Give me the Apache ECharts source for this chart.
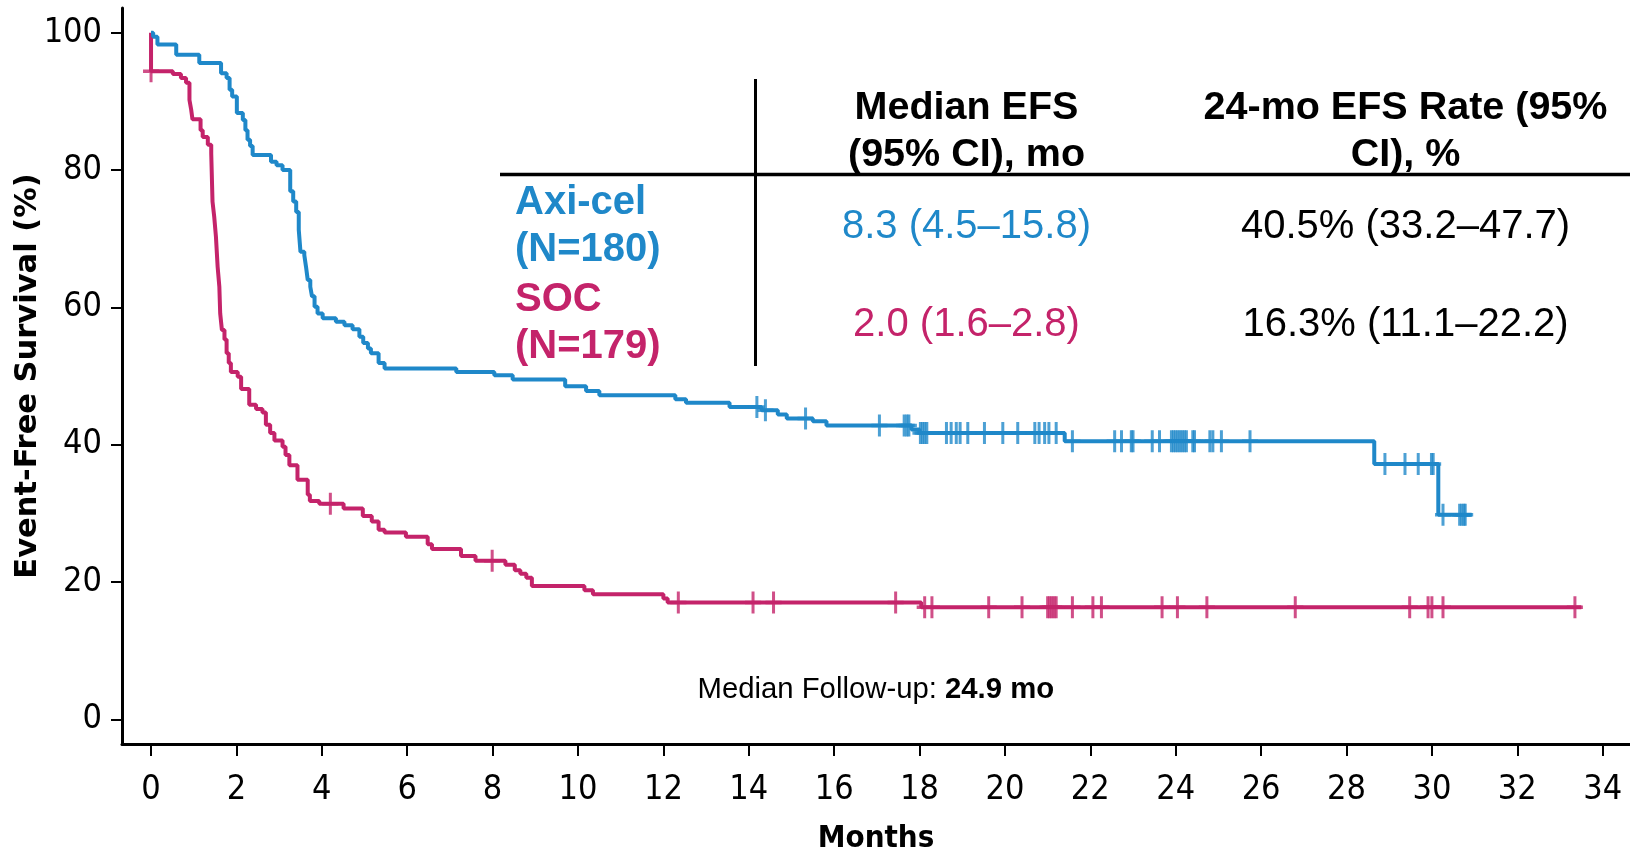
<!DOCTYPE html>
<html><head><meta charset="utf-8">
<script src="https://cdn.jsdelivr.net/npm/echarts@6/dist/echarts.min.js"></script>
<style>html,body{margin:0;padding:0;background:#fff}#c{width:1630px;height:854px}</style>
</head><body><div id="c"></div>
<script>
// ---- data ----
const xTicks = [0,2,4,6,8,10,12,14,16,18,20,22,24,26,28,30,32,34];
const yTicks = [0,20,40,60,80,100];
const xTitle = 'Months';
const yTitle = 'Event-Free Survival (%)';

const axiCelName = 'Axi-cel';
const socName = 'SOC';

// Kaplan-Meier steps [month, survival %]
const axiCel = [[0,100],[0.05,99.4],[0.15,98.3],[0.59,96.8],[1.13,95.6],[1.64,94.1],[1.77,93.4],[1.84,91.7],[1.9,90.7],[2.01,88.3],[2.15,87.3],[2.21,85.8],[2.26,84.4],[2.32,83.5],[2.38,82.2],[2.81,81.2],[2.94,80.7],[3.08,80.0],[3.26,76.9],[3.33,75.4],[3.40,73.9],[3.46,71.3],[3.50,68.1],[3.59,67.6],[3.63,65.9],[3.67,64.0],[3.73,63.0],[3.77,61.6],[3.83,60.1],[3.90,59.1],[4.02,58.4],[4.33,57.9],[4.53,57.4],[4.72,56.8],[4.88,55.7],[4.97,54.8],[5.08,54.0],[5.15,53.3],[5.33,51.9],[5.47,51.1],[7.15,50.6],[8.04,50.1],[8.47,49.5],[9.70,48.5],[10.19,47.8],[10.5,47.2],[12.28,46.6],[12.53,46.1],[13.55,45.5],[14.3,45.0],[14.68,44.4],[14.89,43.8],[15.5,43.4],[15.82,42.8],[17.81,42.2],[18.0,41.7],[21.4,40.5],[28.65,37.2],[30.15,29.8],[30.93,29.8]];

const soc = [[0,100],[0,94.4],[0.51,94.0],[0.70,93.4],[0.82,92.7],[0.90,90.2],[0.94,88.8],[0.97,87.4],[1.16,85.8],[1.21,84.8],[1.33,83.7],[1.41,82.4],[1.44,75.4],[1.48,73.2],[1.52,70.3],[1.56,65.9],[1.60,63.0],[1.62,59.1],[1.66,56.7],[1.72,55.3],[1.77,53.3],[1.82,51.9],[1.87,50.6],[2.03,49.9],[2.11,48.1],[2.30,45.8],[2.46,45.2],[2.61,44.7],[2.69,42.9],[2.79,41.7],[2.89,40.6],[3.08,39.7],[3.15,38.5],[3.24,37.0],[3.43,34.9],[3.67,32.7],[3.72,31.8],[3.94,31.4],[4.51,30.7],[4.96,29.6],[5.17,28.8],[5.33,27.6],[5.47,27.2],[5.97,26.6],[6.48,25.5],[6.58,24.8],[7.26,23.8],[7.60,23.1],[8.30,22.5],[8.52,21.7],[8.65,21.2],[8.79,20.6],[8.92,19.4],[10.15,18.8],[10.35,18.2],[12.0,17.6],[12.1,17.0],[18.04,16.3],[33.5,16.3]];

// censoring times (months)
const axiCelCensor = [14.19,14.39,15.33,17.06,17.64,17.70,17.75,18.02,18.07,18.12,18.17,18.63,18.74,18.86,18.95,19.13,19.52,19.95,20.3,20.7,20.8,20.93,21.03,21.2,21.58,22.57,22.73,22.96,23.0,23.45,23.62,23.9,23.95,24.0,24.05,24.1,24.15,24.2,24.25,24.4,24.44,24.8,24.87,25.07,25.74,28.9,29.37,29.68,29.99,30.03,30.26,30.65,30.7,30.75,30.78];
const socCensor = [0,4.20,7.99,12.35,14.1,14.58,17.44,18.12,18.29,19.62,20.4,21.0,21.05,21.1,21.15,21.2,21.58,22.06,22.26,23.68,24.04,24.73,26.8,29.48,29.91,30.0,30.26,33.35];

// table text
const tableHeader1 = ['Median EFS', '(95% CI), mo'];
const tableHeader2 = ['24-mo EFS Rate (95%', 'CI), %'];
const axiCelLabel = ['Axi-cel', '(N=180)'];
const socLabel = ['SOC', '(N=179)'];
const axiCelMedian = '8.3 (4.5–15.8)';
const socMedian = '2.0 (1.6–2.8)';
const axiCelRate = '40.5% (33.2–47.7)';
const socRate = '16.3% (11.1–22.2)';
const followUpLabel = 'Median Follow-up: ';
const followUpValue = '24.9 mo';

// ---- styling ----
const BLUE = '#1f88c9';
const MAG = '#c4236a';
const NARROW = "'Liberation Sans Narrow','DejaVu Sans Condensed','Arial Narrow',sans-serif";
const ARIAL = "'Liberation Sans',Arial,sans-serif";
const PLUS = 'path://M6.5,0H9.5V9.25H16V12.75H9.5V22H6.5V12.75H0V9.25H6.5Z';

function valueAt(curve, t) {
  let v = curve[0][1];
  for (const p of curve) { if (p[0] <= t) v = p[1]; else break; }
  return v;
}
const axiCelCensorPts = axiCelCensor.map(t => [t, valueAt(axiCel, t)]);
const socCensorPts = socCensor.map(t => [t, valueAt(soc, t)]);

const chart = echarts.init(document.getElementById('c'), null, {renderer: 'canvas'});

function txt(x, y, text, opt) {
  return {type: 'text', x: x, y: y, z: 10, style: Object.assign({
    text: text, fontFamily: ARIAL, fontSize: 39.5, fill: '#000',
    align: 'center', verticalAlign: 'middle'}, opt || {})};
}

chart.setOption({
  animation: false,
  backgroundColor: '#fff',
  grid: {left: 122, right: 0, top: 8, bottom: 110, containLabel: false, outerBoundsMode: 'none'},
  xAxis: {
    type: 'value', min: -0.68, max: 34.64,
    name: xTitle, nameLocation: 'middle', nameGap: 79, nameMoveOverlap: false,
    nameTextStyle: {fontFamily: NARROW, fontWeight: 'bold', fontSize: 31, color: '#000'},
    axisLine: {show: true, onZero: false, lineStyle: {color: '#000', width: 3}},
    axisTick: {show: true, length: 12, customValues: xTicks, lineStyle: {color: '#000', width: 2}},
    axisLabel: {customValues: xTicks, margin: 29, fontFamily: NARROW, fontSize: 34, color: '#000'},
    splitLine: {show: false}
  },
  yAxis: {
    type: 'value', min: -3.6, max: 103.6,
    name: yTitle, nameLocation: 'middle', nameGap: 78, nameRotate: 90, nameMoveOverlap: false,
    nameTextStyle: {fontFamily: "'DejaVu Sans',Verdana,sans-serif", fontWeight: 'bold', fontSize: 30.5, color: '#000'},
    axisLine: {show: true, onZero: false, lineStyle: {color: '#000', width: 3}},
    axisTick: {show: true, length: 11, customValues: yTicks, lineStyle: {color: '#000', width: 2}},
    axisLabel: {customValues: yTicks, margin: 20, fontFamily: NARROW, fontSize: 34, color: '#000'},
    splitLine: {show: false}
  },
  series: [
    {name: socName, type: 'line', step: 'end', data: soc, showSymbol: false, symbol: 'none',
     lineStyle: {color: MAG, width: 4}, z: 2},
    {name: axiCelName, type: 'line', step: 'end', data: axiCel, showSymbol: false, symbol: 'none',
     lineStyle: {color: BLUE, width: 4}, z: 3},
    {name: socName + ' censored', type: 'scatter', data: socCensorPts, symbol: PLUS, symbolSize: [16, 22],
     itemStyle: {color: MAG}, z: 4, silent: true},
    {name: axiCelName + ' censored', type: 'scatter', data: axiCelCensorPts, symbol: PLUS, symbolSize: [16, 22],
     itemStyle: {color: BLUE}, z: 5, silent: true}
  ],
  graphic: [
    {type: 'line', z: 10, shape: {x1: 755.5, y1: 79, x2: 755.5, y2: 366}, style: {stroke: '#000', lineWidth: 3}},
    {type: 'line', z: 10, shape: {x1: 500, y1: 174.5, x2: 1630, y2: 174.5}, style: {stroke: '#000', lineWidth: 3.5}},
    txt(966.5, 108, tableHeader1[0], {fontWeight: 'bold'}),
    txt(966.5, 155.5, tableHeader1[1], {fontWeight: 'bold'}),
    txt(1405.5, 108, tableHeader2[0], {fontWeight: 'bold'}),
    txt(1405.5, 155.5, tableHeader2[1], {fontWeight: 'bold'}),
    txt(515, 202.5, axiCelLabel[0], {fontWeight: 'bold', fill: BLUE, align: 'left', fontSize: 40}),
    txt(515, 250, axiCelLabel[1], {fontWeight: 'bold', fill: BLUE, align: 'left', fontSize: 40}),
    txt(515, 299.5, socLabel[0], {fontWeight: 'bold', fill: MAG, align: 'left', fontSize: 40}),
    txt(515, 347, socLabel[1], {fontWeight: 'bold', fill: MAG, align: 'left', fontSize: 40}),
    txt(966.5, 227, axiCelMedian, {fill: BLUE, fontSize: 40}),
    txt(966.5, 325, socMedian, {fill: MAG, fontSize: 40}),
    txt(1405.5, 227, axiCelRate, {fontSize: 40}),
    txt(1405.5, 325, socRate, {fontSize: 40}),
    {type: 'text', x: 697.5, y: 690, z: 10, style: {
      text: '{r|' + followUpLabel + '}{b|' + followUpValue + '}',
      align: 'left', verticalAlign: 'middle',
      rich: {
        r: {fontFamily: ARIAL, fontSize: 29.3, fill: '#000', color: '#000'},
        b: {fontFamily: ARIAL, fontSize: 29.3, fontWeight: 'bold', fill: '#000', color: '#000'}
      }}}
  ]
});
</script>
</body></html>
